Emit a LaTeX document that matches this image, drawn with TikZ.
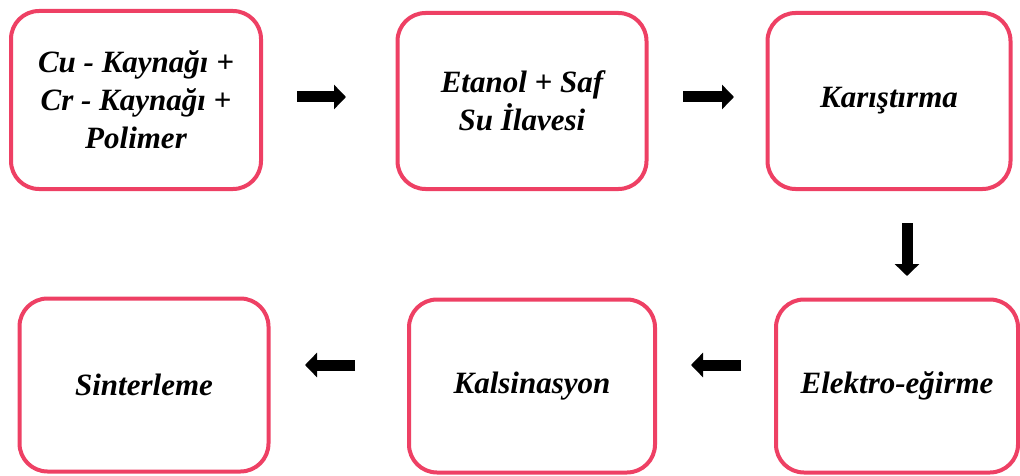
\documentclass[tikz,border=0pt]{standalone}
\usepackage{fontspec}
\setmainfont{Liberation Serif}
\usetikzlibrary{arrows.meta}
\definecolor{boxpink}{RGB}{238,64,100}
\begin{document}
\begin{tikzpicture}[x=1pt,y=1pt,
  stepbox/.style={draw=boxpink, line width=4pt, rounded corners=28pt, fill=white,
    align=center, inner sep=0pt, font=\fontsize{31}{38}\selectfont\bfseries\itshape},
  blockarrow/.style={line width=11pt, -{Triangle[length=12pt,width=24pt]}, black}]
\useasboundingbox (0,0) rectangle (1020,475);
\node[stepbox, minimum width=250pt, minimum height=178pt] (b1) at (136,375) {Cu - Kaynağı +\\Cr - Kaynağı +\\Polimer};
\node[stepbox, minimum width=249pt, minimum height=176pt] (b2) at (522,374) {Etanol + Saf\\Su İlavesi};
\node[stepbox, minimum width=243pt, minimum height=176pt] (b3) at (889,374) {Karıştırma};
\node[stepbox, minimum width=249pt, minimum height=173pt] (b4) at (144,90) {Sinterleme};
\node[stepbox, minimum width=246pt, minimum height=173pt] (b5) at (532,89) {Kalsinasyon};
\node[stepbox, minimum width=242pt, minimum height=173pt] (b6) at (897,89) {Elektro-eğirme};
\coordinate (a1s) at (297,378); \coordinate (a1e) at (346,378);
\coordinate (a2s) at (683,378); \coordinate (a2e) at (734,378);
\coordinate (a3s) at (907,252); \coordinate (a3e) at (907,199);
\coordinate (a4s) at (741,110); \coordinate (a4e) at (691,110);
\coordinate (a5s) at (355,110); \coordinate (a5e) at (305,110);
\draw[blockarrow] (a1s) -- (a1e);
\draw[blockarrow] (a2s) -- (a2e);
\draw[blockarrow] (a3s) -- (a3e);
\draw[blockarrow] (a4s) -- (a4e);
\draw[blockarrow] (a5s) -- (a5e);
\end{tikzpicture}
\end{document}
